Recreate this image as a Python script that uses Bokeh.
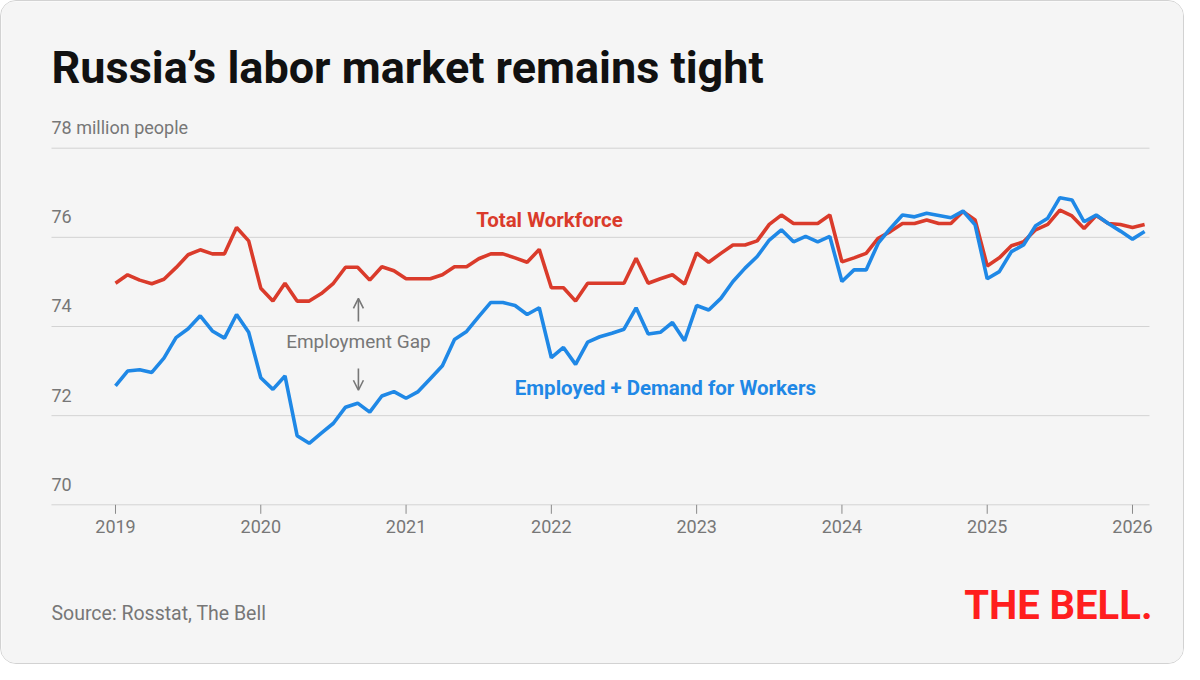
import math
from bokeh.plotting import figure
from bokeh.models import Range1d, Label, Arrow, OpenHead, ColumnDataSource
from bokeh.core.properties import value
from bokeh.embed import file_html
from bokeh.resources import INLINE

# ---- data (monthly, Jan 2019 .. Feb 2026), million people ----
total_workforce = [
    74.97, 75.16, 75.04, 74.96, 75.06, 75.32, 75.61, 75.72, 75.63, 75.63, 76.22, 75.92,  # 2019
    74.86, 74.57, 74.97, 74.57, 74.57, 74.74, 74.97, 75.33, 75.33, 75.04, 75.34, 75.25,  # 2020
    75.07, 75.07, 75.07, 75.16, 75.34, 75.34, 75.52, 75.63, 75.63, 75.54, 75.44, 75.73,  # 2021
    74.87, 74.87, 74.57, 74.97, 74.97, 74.97, 74.97, 75.53, 74.97, 75.07, 75.16, 74.95,  # 2022
    75.65, 75.44, 75.64, 75.83, 75.83, 75.92, 76.29, 76.50, 76.31, 76.31, 76.31, 76.50,  # 2023
    75.45, 75.54, 75.64, 75.98, 76.13, 76.31, 76.31, 76.39, 76.31, 76.31, 76.58, 76.39,  # 2024
    75.36, 75.54, 75.81, 75.90, 76.17, 76.29, 76.61, 76.48, 76.20, 76.49, 76.31, 76.29,  # 2025
    76.22, 76.29,                                                                        # 2026
]
employed_plus_demand = [
    72.67, 73.00, 73.03, 72.97, 73.29, 73.75, 73.95, 74.24, 73.90, 73.74, 74.27, 73.87,  # 2019
    72.85, 72.59, 72.89, 71.55, 71.38, 71.61, 71.83, 72.19, 72.28, 72.08, 72.44, 72.54,  # 2020
    72.39, 72.54, 72.83, 73.12, 73.71, 73.89, 74.22, 74.54, 74.54, 74.47, 74.27, 74.42,  # 2021
    73.30, 73.53, 73.15, 73.65, 73.77, 73.85, 73.94, 74.42, 73.83, 73.87, 74.09, 73.68,  # 2022
    74.47, 74.37, 74.63, 75.01, 75.31, 75.57, 75.94, 76.17, 75.90, 76.02, 75.90, 76.02,  # 2023
    75.01, 75.27, 75.27, 75.87, 76.20, 76.50, 76.46, 76.54, 76.49, 76.44, 76.59, 76.28,  # 2024
    75.07, 75.23, 75.68, 75.83, 76.26, 76.43, 76.89, 76.84, 76.35, 76.50, 76.31, 76.14,  # 2025
    75.96, 76.13,                                                                        # 2026
]
start_year = 2019
x_years = [2019, 2020, 2021, 2022, 2023, 2024, 2025, 2026]
x_labels = ["2019", "2020", "2021", "2022", "2023", "2024", "2025", "2026"]
y_ticks = [70, 72, 74, 76, 78]
y_labels = ["70", "72", "74", "76", "78 million people"]

title_text = "Russia\u2019s labor market remains tight"
source_text = "Source: Rosstat, The Bell"
logo_text = "THE BELL."
label_total = "Total Workforce"
label_employed = "Employed + Demand for Workers"
label_gap = "Employment Gap"

months = [start_year + i / 12 for i in range(len(total_workforce))]

RED = "#da3b2b"
BLUE = "#1f88e6"
GREY = "#777777"
BG = "#f5f5f5"
FONT = "Roboto"

# whole canvas is the plotting frame; ranges chosen so that the axes land as in the original
X0, X1 = 2018.2154, 2026.3648
Y0, Y1 = 66.3948, 81.2911
GX0, GX1 = 2018.5595, 2026.117   # horizontal extent of grid lines

p = figure(width=1184, height=664, output_backend="svg", toolbar_location=None,
           x_range=Range1d(X0, X1), y_range=Range1d(Y0, Y1),
           x_axis_location=None, y_axis_location=None,
           min_border_left=0, min_border_right=0, min_border_top=0, min_border_bottom=0)
p.background_fill_color = BG
p.border_fill_color = BG
p.outline_line_color = None
p.xgrid.visible = False
p.ygrid.visible = False
p.styles = {"border": "1px solid #d2d2d2", "border-radius": "16px", "overflow": "hidden"}

# horizontal grid lines (the one at 70 is the x axis line)
p.segment(x0=[GX0] * len(y_ticks), x1=[GX1] * len(y_ticks), y0=y_ticks, y1=y_ticks,
          line_color="#d3d3d3", line_width=1)

# y tick labels above grid lines at left edge
ysrc = ColumnDataSource(dict(x=[GX0] * len(y_ticks), y=y_ticks, t=y_labels))
p.text(x="x", y="y", text="t", source=ysrc, text_font=value(FONT), text_font_size="18px",
       text_color=GREY, text_baseline="alphabetic", text_align="left", y_offset=-20.5)

# x ticks and labels
xsrc = ColumnDataSource(dict(x=x_years, y=[y_ticks[0]] * len(x_years), t=x_labels))
p.ray(x="x", y="y", source=xsrc, length=9, length_units="screen", angle=-math.pi / 2,
      line_color="#8a8a8a", line_width=1)
p.text(x="x", y="y", text="t", source=xsrc, text_font=value(FONT), text_font_size="18px",
       text_color=GREY, text_baseline="alphabetic", text_align="center", y_offset=22)

# lines
p.line(months, total_workforce, line_color=RED, line_width=3.6)
p.line(months, employed_plus_demand, line_color=BLUE, line_width=3.6)

# series labels
p.add_layout(Label(x=2021.987, y=76.40, text=label_total, text_align="center",
                   text_baseline="alphabetic", text_font=FONT, text_font_style="bold",
                   text_font_size="20.5px", text_color=RED))
p.add_layout(Label(x=2022.785, y=72.61, text=label_employed, text_align="center",
                   text_baseline="alphabetic", text_font=FONT, text_font_style="bold",
                   text_font_size="20.5px", text_color=BLUE))
p.add_layout(Label(x=2020.672, y=73.655, text=label_gap, text_align="center",
                   text_baseline="alphabetic", text_font=FONT, text_font_size="19px",
                   text_color=GREY))
p.add_layout(Arrow(x_start=2020.672, y_start=74.11, x_end=2020.672, y_end=74.63,
                   line_color=GREY, line_width=1.6,
                   end=OpenHead(size=10, line_color=GREY, line_width=1.6)))
p.add_layout(Arrow(x_start=2020.672, y_start=73.06, x_end=2020.672, y_end=72.57,
                   line_color=GREY, line_width=1.6,
                   end=OpenHead(size=10, line_color=GREY, line_width=1.6)))

# title, source, logo
p.add_layout(Label(x=GX0, y=79.82, text=title_text,
                   text_font=FONT, text_font_style="bold", text_font_size="45px",
                   text_color="#111111", text_baseline="alphabetic"))
p.add_layout(Label(x=GX0, y=67.568, text=source_text,
                   text_font=FONT, text_font_size="19.5px", text_color=GREY,
                   text_baseline="alphabetic"))
p.add_layout(Label(x=2026.1377, y=67.74, text=logo_text,
                   text_font=FONT, text_font_style="bold", text_font_size="40px",
                   text_color="#ff1e1e", text_baseline="alphabetic", text_align="right"))

open("out.html", "w").write(file_html(p, INLINE))
